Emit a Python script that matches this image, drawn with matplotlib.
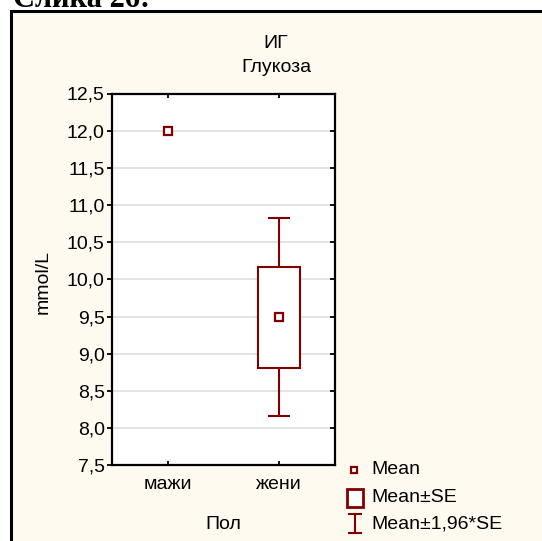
import matplotlib
matplotlib.use("Agg")
import matplotlib.pyplot as plt
from matplotlib.patches import Rectangle
from matplotlib.lines import Line2D
import numpy as np

plt.rcParams['font.family'] = ['Liberation Sans', 'DejaVu Sans']

# data
groups = ['мажи', 'жени']
means = [12.0, 9.49]
se = [np.nan, 0.68]
yticks = [7.5, 8.0, 8.5, 9.0, 9.5, 10.0, 10.5, 11.0, 11.5, 12.0, 12.5]
ytick_labels = ['7,5', '8,0', '8,5', '9,0', '9,5', '10,0', '10,5', '11,0', '11,5', '12,0', '12,5']

red = '#800000'
cream = '#FFFAF0'
W, H = 542, 541
fs = 14


def fx(x):
    return x / W


def fy(y):
    return 1 - y / H


fig = plt.figure(figsize=(W / 100, H / 100), dpi=100)
fig.patch.set_facecolor('white')

# outer frame (cut off on right/bottom like the source)
fig.add_artist(Rectangle((fx(11), fy(560)), fx(600), fy(11) - fy(560), transform=fig.transFigure,
                         facecolor=cream, edgecolor='black', linewidth=2.2, zorder=0))
fig.text(fx(13), fy(7), 'Слика 26:', family='Liberation Serif', fontweight='bold', fontsize=22,
         va='baseline', ha='left')

ax = fig.add_axes([fx(111.7), fy(465.2), fx(335) - fx(111.7), fy(93.5) - fy(465.2)])
ax.set_facecolor('white')

x = np.arange(len(groups))
for i in range(len(groups)):
    m, s = means[i], se[i]
    if not np.isnan(s):
        lo, hi = m - 1.96 * s, m + 1.96 * s
        ax.vlines(x[i], m + s, hi, color=red, lw=1.5, zorder=3)
        ax.vlines(x[i], lo, m - s, color=red, lw=1.5, zorder=3)
        ax.hlines([lo, hi], x[i] - 0.0975, x[i] + 0.0975, color=red, lw=1.5, zorder=3)
        ax.add_patch(Rectangle((x[i] - 0.19, m - s), 0.38, 2 * s, facecolor='white',
                               edgecolor=red, lw=1.5, zorder=3))
    ax.plot(x[i], m, marker='s', ms=6, mfc='white', mec=red, mew=1.6, zorder=4)

ax.set_xlim(-0.5, 1.5)
ax.set_ylim(7.5, 12.5)
ax.set_yticks(yticks)
ax.set_yticklabels(ytick_labels, fontsize=fs)
ax.set_xticks(x)
ax.set_xticklabels(groups, fontsize=fs)
ax.grid(axis='y', color='#E0E0E0', lw=1.3, zorder=0)
ax.set_axisbelow(True)
for sp in ax.spines.values():
    sp.set_linewidth(1.6)
ax.tick_params(axis='y', which='both', left=True, right=True, direction='out', length=3.5, width=1.3, pad=1.5)
ax.tick_params(axis='x', top=True, direction='in', length=3, width=1.3, pad=8)
# right ticks inward
for t in ax.yaxis.get_major_ticks():
    t.tick2line.set_marker(matplotlib.lines.TICKLEFT)

ax.set_ylabel('mmol/L', fontsize=fs)
ax.yaxis.set_label_coords(-0.27, 0.493)
ax.set_xlabel('Пол', fontsize=fs, labelpad=16)

fig.text(fx(276), fy(44), 'ИГ', fontsize=fs, ha='center', va='center')
fig.text(fx(276), fy(68), 'Глукоза', fontsize=fs, ha='center', va='center')

# legend
fig.add_artist(Line2D([fx(354)], [fy(470)], marker='s', ms=5, mfc='white', mec=red, mew=1.6,
                      transform=fig.transFigure))
fig.add_artist(Rectangle((fx(347), fy(507)), fx(16), fy(489) - fy(507), transform=fig.transFigure,
                         facecolor='white', edgecolor=red, lw=2))
fig.add_artist(Line2D([fx(355), fx(355)], [fy(514), fy(533)], color=red, lw=1.5, transform=fig.transFigure))
fig.add_artist(Line2D([fx(349), fx(361)], [fy(514), fy(514)], color=red, lw=1.5, transform=fig.transFigure))
fig.add_artist(Line2D([fx(349), fx(361)], [fy(533), fy(533)], color=red, lw=1.5, transform=fig.transFigure))
for yy, lab in zip([470, 498, 524], ['Mean', 'Mean±SE', 'Mean±1,96*SE']):
    fig.text(fx(371), fy(yy), lab, fontsize=fs, ha='left', va='center')

fig.savefig('out.png', dpi=100, facecolor=fig.get_facecolor())
